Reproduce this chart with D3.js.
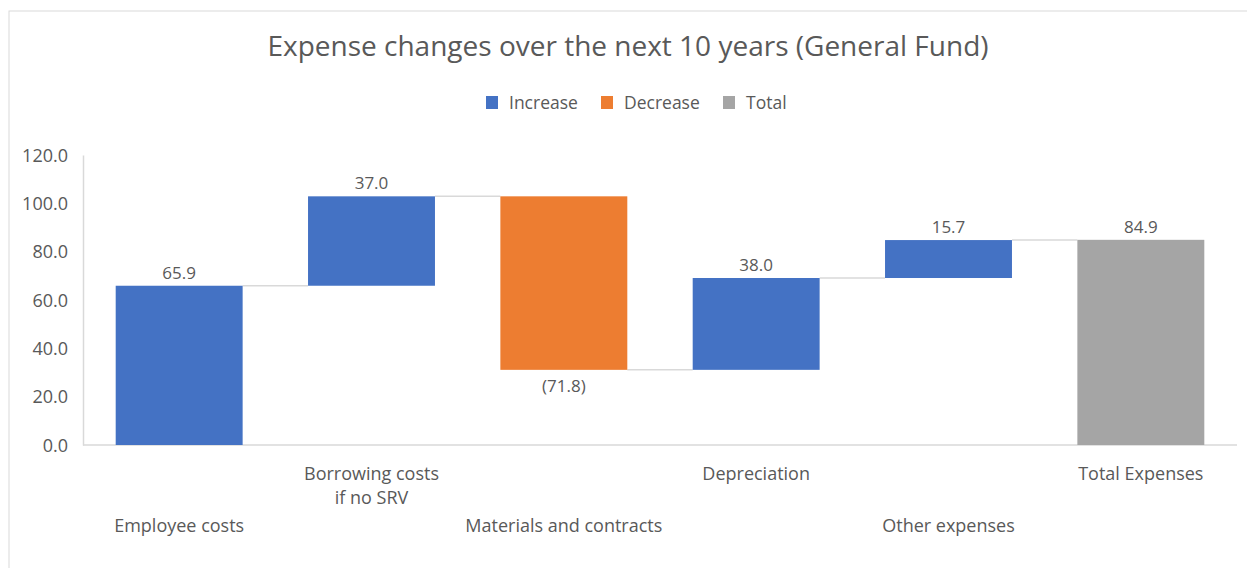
<!DOCTYPE html>
<html><head><meta charset="utf-8">
<script src="https://cdn.jsdelivr.net/npm/d3@7"></script>
<style>
html,body{margin:0;padding:0;background:#fff;}
svg{display:block;}
text{font-family:"Open Sans","Noto Sans",sans-serif;fill:#595959;}
</style></head>
<body>
<svg id="c" width="1247" height="568"></svg>
<script>
const categories = ["Employee costs", "Borrowing costs\nif no SRV", "Materials and contracts", "Depreciation", "Other expenses", "Total Expenses"];
const values = [65.9, 37.0, -71.8, 38.0, 15.7, 84.9];
const kinds = ["Increase", "Increase", "Decrease", "Increase", "Increase", "Total"];
const labels = ["65.9", "37.0", "(71.8)", "38.0", "15.7", "84.9"];
const yTicks = [0, 20, 40, 60, 80, 100, 120];
const legendItems = ["Increase", "Decrease", "Total"];
const colors = {Increase: "#4472C4", Decrease: "#ED7D31", Total: "#A5A5A5"};

// waterfall extents
let run = 0;
const bars = categories.map((c, i) => {
  let start, end;
  if (kinds[i] === "Total") { start = 0; end = values[i]; run = values[i]; }
  else { start = run; end = run + values[i]; run = end; }
  return {cat: c, start, end, kind: kinds[i], label: labels[i], i};
});

const svg = d3.select("#c");
svg.append("rect").attr("x", 9).attr("y", 11).attr("width", 1260).attr("height", 600)
  .attr("fill", "none").attr("stroke", "#d9d9d9").attr("stroke-width", 1);

const x = d3.scaleBand().domain(d3.range(categories.length)).range([83, 1237]).paddingInner(0.34).paddingOuter(0.17);
const y = d3.scaleLinear().domain([0, 120]).range([445, 155]);

const yAxis = d3.axisLeft(y).tickValues(yTicks).tickFormat(d3.format(".1f")).tickSize(0).tickPadding(15);
const gy = svg.append("g").attr("transform", "translate(83,0)").call(yAxis);
gy.select(".domain").attr("stroke", "#d9d9d9").attr("stroke-width", 1.5);
gy.selectAll("text").attr("font-size", 18).attr("fill", "#595959").attr("dy", "0.35em")
  .style("font-family", '"Open Sans","Noto Sans",sans-serif');

svg.append("line").attr("x1", 83).attr("x2", 1237).attr("y1", y(0)).attr("y2", y(0))
  .attr("stroke", "#d9d9d9").attr("stroke-width", 1.5);

for (let i = 0; i < bars.length - 1; i++) {
  const lvl = bars[i].end;
  svg.append("line")
    .attr("x1", x(i) + x.bandwidth()).attr("x2", x(i + 1))
    .attr("y1", y(lvl)).attr("y2", y(lvl))
    .attr("stroke", "#d9d9d9").attr("stroke-width", 1.5);
}

svg.selectAll("rect.bar").data(bars).enter().append("rect").attr("class", "bar")
  .attr("x", d => x(d.i)).attr("width", x.bandwidth())
  .attr("y", d => y(Math.max(d.start, d.end)))
  .attr("height", d => Math.abs(y(d.start) - y(d.end)))
  .attr("fill", d => colors[d.kind]);

svg.selectAll("text.val").data(bars).enter().append("text").attr("class", "val")
  .attr("x", d => x(d.i) + x.bandwidth() / 2)
  .attr("y", d => d.kind === "Decrease" ? y(Math.min(d.start, d.end)) + 22 : y(Math.max(d.start, d.end)) - 7)
  .attr("text-anchor", "middle").attr("font-size", 17)
  .text(d => d.label);

bars.forEach(d => {
  const lines = d.cat.split("\n");
  const baseY = d.i % 2 === 0 ? 532 : 480;
  const t = svg.append("text").attr("text-anchor", "middle").attr("font-size", 18)
    .attr("x", x(d.i) + x.bandwidth() / 2).attr("y", baseY);
  lines.forEach((ln, k) => t.append("tspan").attr("x", x(d.i) + x.bandwidth() / 2).attr("dy", k === 0 ? 0 : 24).text(ln));
});

svg.append("text").attr("x", 628).attr("y", 56).attr("text-anchor", "middle")
  .attr("font-size", 28).text("Expense changes over the next 10 years (General Fund)");

const legX = [486, 601, 723];
legendItems.forEach((k, i) => {
  svg.append("rect").attr("x", legX[i]).attr("y", 96).attr("width", 12).attr("height", 13).attr("fill", colors[k]);
  svg.append("text").attr("x", legX[i] + 23).attr("y", 109).attr("font-size", 17.5).text(k);
});
</script>
</body></html>
